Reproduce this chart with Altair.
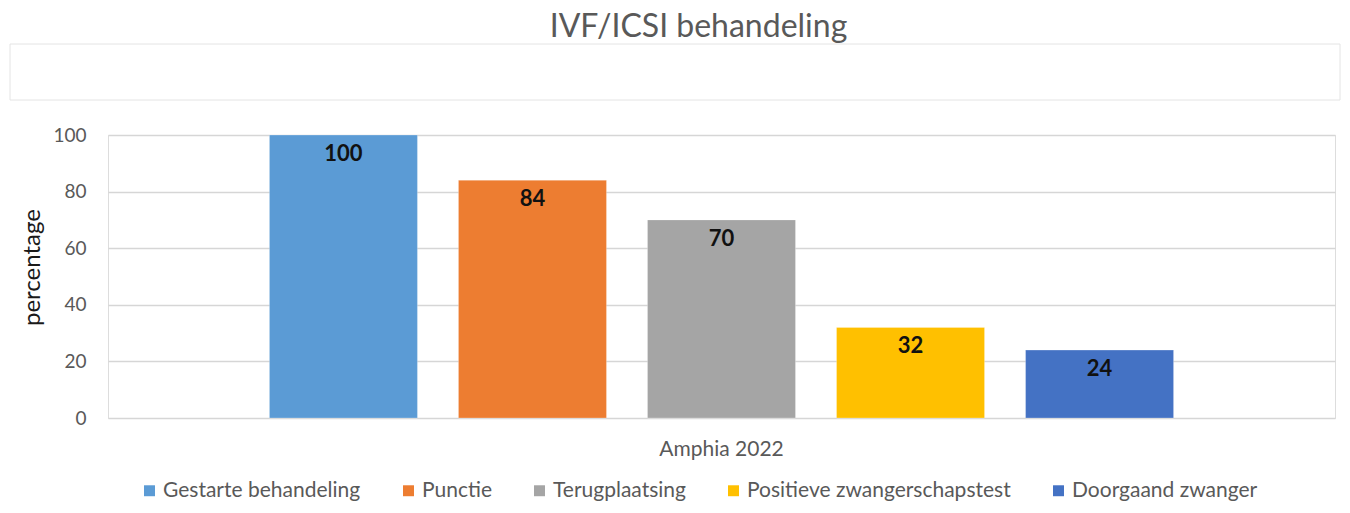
import altair as alt
import pandas as pd

group = ["Amphia 2022"] * 5
series = ["Gestarte behandeling", "Punctie", "Terugplaatsing",
          "Positieve zwangerschapstest", "Doorgaand zwanger"]
values = [100, 84, 70, 32, 24]
colors = ["#5B9BD5", "#ED7D31", "#A5A5A5", "#FFC000", "#4472C4"]

df = pd.DataFrame({"groep": group, "serie": series, "waarde": values})

FONT = "Lato"

x = alt.X("groep:N", title=None,
          scale=alt.Scale(paddingInner=0, paddingOuter=0),
          axis=alt.Axis(labelAngle=0, ticks=False, domain=False,
                        labelFontSize=21, labelColor="#595959",
                        labelPadding=20, labelFont=FONT))
xo = alt.XOffset("serie:N", sort=series,
                 scale=alt.Scale(paddingInner=0.217, paddingOuter=0.854))
y = alt.Y("waarde:Q", title="percentage",
          scale=alt.Scale(domain=[0, 100], nice=False),
          axis=alt.Axis(values=[0, 20, 40, 60, 80, 100], ticks=False, domain=False,
                        labelFontSize=19, labelColor="#595959", labelPadding=22,
                        labelFont=FONT, gridColor="#d6d6d6", gridWidth=1.6,
                        titleFontSize=24, titleColor="#1a1a1a", titleFont=FONT,
                        titleFontWeight="normal", titlePadding=8, titleY=132))

bars = alt.Chart(df).mark_bar(stroke="white", strokeWidth=0.5, strokeOpacity=0.5).encode(
    x=x, xOffset=xo, y=y,
    color=alt.Color("serie:N", sort=series, title=None,
                    scale=alt.Scale(domain=series, range=colors),
                    legend=alt.Legend(orient="none", direction="horizontal",
                                      legendX=31, legendY=345,
                                      symbolType="square", symbolSize=120,
                                      symbolStrokeWidth=0,
                                      labelFontSize=21, labelColor="#595959",
                                      labelFont=FONT, columnPadding=37,
                                      labelOffset=3, labelLimit=400))
)

labels = alt.Chart(df).mark_text(baseline="middle", dy=19, fontSize=22,
                                 fontWeight="bold", color="#111111", font=FONT).encode(
    x=x, xOffset=xo, y=y, text=alt.Text("waarde:Q")
)

box = alt.Chart(df.head(1)).mark_rect(fillOpacity=0, stroke="#e4e4e4", strokeWidth=1).encode(
    x=alt.value(-98), x2=alt.value(1232), y=alt.value(-91), y2=alt.value(-35)
)

chart = alt.layer(box, bars, labels).properties(
    width=1227, height=283,
    autosize=alt.AutoSizeParams(type="none"),
    padding={"left": 100, "top": 127, "right": 7, "bottom": 87},
    title=alt.TitleParams("IVF/ICSI behandeling", fontSize=32, color="#595959",
                          font=FONT, fontWeight="normal", anchor="middle",
                          offset=-15, dx=-23, baseline="middle"),
).configure_view(stroke=None).configure(background="white")

chart.save("out.html", embed_options={"renderer": "svg", "actions": False})
